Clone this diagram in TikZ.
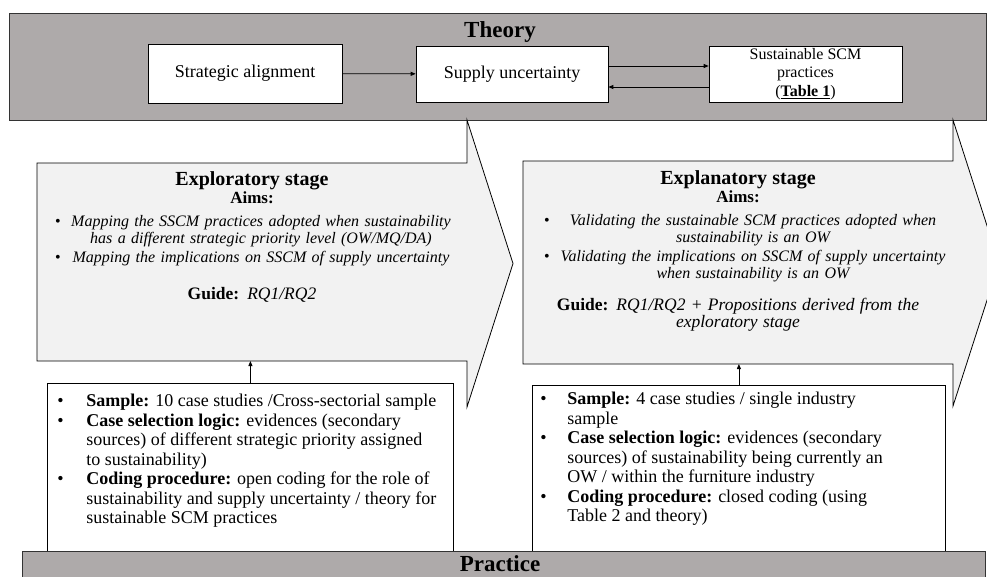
\documentclass[tikz,border=0pt]{standalone}
\usepackage{fontspec}
\setmainfont{Liberation Serif}
\usetikzlibrary{arrows.meta,positioning}
\definecolor{bandgray}{HTML}{AEAAAA}
\definecolor{stagefill}{HTML}{F2F2F2}
\newcommand{\fsz}[2]{\fontsize{#1}{#2}\selectfont}
\newcommand{\aimitem}[3]{\makebox[410pt][l]{\hspace*{#1}\makebox[14pt][l]{\textbullet}%
  \parbox[t]{#2}{\centering\itshape\strut#3\strut}}}
\newenvironment{samplist}[2]{\begin{list}{\textbullet}{%
  \setlength{\leftmargin}{#2}\setlength{\labelwidth}{\dimexpr#2-#1\relax}%
  \setlength{\labelsep}{0pt}\setlength{\itemsep}{0pt}\setlength{\parsep}{0pt}%
  \setlength{\topsep}{0pt}\setlength{\partopsep}{0pt}\setlength{\rightmargin}{4pt}%
  \renewcommand{\makelabel}[1]{##1\hfil}}\raggedright}{\end{list}}

\begin{document}
\begin{tikzpicture}[x=1pt,y=-1pt,
 band/.style={fill=bandgray,draw=black!80,line width=0.9pt},
 bandtitle/.style={font=\fsz{23}{26}\bfseries},
 theorybox/.style={draw,fill=white,line width=0.7pt,align=center,
                   inner sep=2pt,font=\fsz{18}{20}},
 stage/.style={fill=stagefill,draw,line width=0.8pt},
 stagetext/.style={anchor=north,text width=410pt,align=center,
                   inner sep=0pt,font=\fsz{16}{17}},
 sampbox/.style={draw,fill=white,line width=0.8pt,anchor=north west,
                 inner sep=0pt,font=\fsz{18}{19.5}},
 arrow/.style={-{Triangle[length=5pt,width=4pt]},line width=0.8pt}]
 \useasboundingbox (0,0) rectangle (987,576);
 \clip (0,0) rectangle (987,576);
 % theory
 \filldraw[band] (9,13) rectangle (986,120);
 \node[bandtitle] (theory) at (500,32) {Theory};
 \node[theorybox,minimum width=194,minimum height=59] (align) at (245,73.5)
   {Strategic alignment};
 \node[theorybox,minimum width=192,minimum height=56] (uncert) at (512,74)
   {Supply uncertainty};
 \node[theorybox,minimum width=193,minimum height=56,font=\fsz{16}{18.5}]
   (sscm) at (805.5,74) {Sustainable SCM\\practices\\(\underline{\textbf{Table 1}})};
 \draw[arrow] (align) -- (uncert);
 \draw[arrow] ([yshift=8]uncert.east) -- ([yshift=8]sscm.west);
 \draw[arrow] ([yshift=-13]sscm.west) -- ([yshift=-13]uncert.east);
 % stages
 \filldraw[stage] (37,163) -- (467,163) -- (467,120) -- (513,263.5)
   -- (467,407) -- (467,361) -- (37,361) -- cycle;
 \node[stagetext] (explo) at (252,171)
   {{\fsz{20}{21}\bfseries Exploratory stage}\\[1pt]
    {\fsz{17}{19}\bfseries Aims:}\\[6pt]
    \aimitem{8pt}{384pt}{Mapping the SSCM practices adopted when sustainability\\
      has a different strategic priority level (OW/MQ/DA)}\\[1pt]
    \aimitem{8pt}{384pt}{Mapping the implications on SSCM of supply uncertainty}\\[19pt]
    {\fsz{17.5}{18}\textbf{Guide:} \textit{RQ1/RQ2}}};
 \coordinate (exploFoot) at (252,361);
 \filldraw[stage] (523,161) -- (953,161) -- (953,120) -- (999,263)
   -- (953,406) -- (953,364) -- (523,364) -- cycle;
 \node[stagetext] (expla) at (738,170)
   {{\fsz{20}{21}\bfseries Explanatory stage}\\[1pt]
    {\fsz{17}{19}\bfseries Aims:}\\[6pt]
    \aimitem{11pt}{390pt}{Validating the sustainable SCM practices adopted when\\
      sustainability is an OW}\\[1pt]
    \aimitem{11pt}{390pt}{Validating the implications on SSCM of supply uncertainty\\
      when sustainability is an OW}\\[14pt]
    {\fsz{17.5}{18}\textbf{Guide:} \textit{RQ1/RQ2 + Propositions derived from the}}\\
    {\fsz{17.5}{18}\textit{exploratory stage}}};
 \coordinate (explaFoot) at (740,364);
 % samples
 \node[sampbox] (samp1) at (47,383) {\parbox[t][185pt][t]{410pt}{\vspace*{11pt}%
   \begin{samplist}{10pt}{39pt}
   \item \textbf{Sample:} 10 case studies /Cross-sectorial sample
   \item \textbf{Case selection logic:} evidences (secondary\\
     sources) of different strategic priority assigned\\ to sustainability)
   \item \textbf{Coding procedure:} open coding for the role of\\
     sustainability and supply uncertainty / theory for\\
     sustainable SCM practices
   \end{samplist}}};
 \node[sampbox] (samp2) at (532,385) {\parbox[t][185pt][t]{417pt}{\vspace*{7pt}%
   \begin{samplist}{8pt}{35pt}
   \item \textbf{Sample:} 4 case studies / single industry\\ sample
   \item \textbf{Case selection logic:} evidences (secondary\\
     sources) of sustainability being currently an\\
     OW / within the furniture industry
   \item \textbf{Coding procedure:} closed coding (using\\ Table 2 and theory)
   \end{samplist}}};
 \draw[arrow] (samp1.north) -- (samp1.north |- exploFoot);
 \draw[arrow] (samp2.north) -- (samp2.north |- explaFoot);
 % practice
 \filldraw[band] (22,551) rectangle (985,600);
 \node[bandtitle] (practice) at (500,564) {Practice};
\end{tikzpicture}
\end{document}
